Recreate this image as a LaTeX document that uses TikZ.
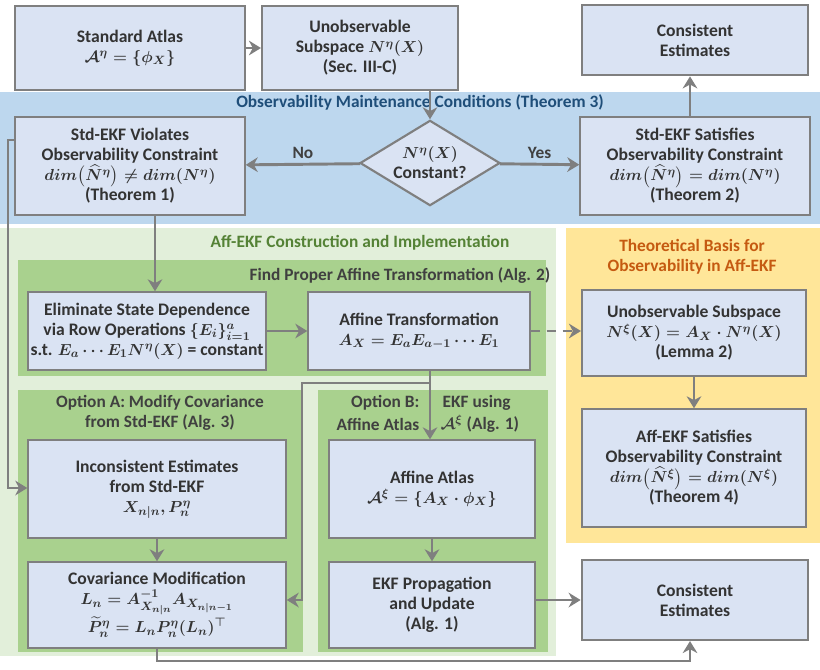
\documentclass[tikz,border=0pt]{standalone}
\usepackage{amsmath,amssymb,bm}
\usepackage{fontspec}
\setmainfont{Carlito}
\usetikzlibrary{arrows.meta,shapes.geometric}
\definecolor{bx}{HTML}{DAE3F3}
\definecolor{ln}{HTML}{7F7F7F}
\definecolor{blueband}{HTML}{BDD7EE}
\definecolor{lgreen}{HTML}{E2EFDA}
\definecolor{mgreen}{HTML}{A9D18E}
\definecolor{yel}{HTML}{FFE699}
\definecolor{dgreen}{HTML}{548235}
\definecolor{dblue}{HTML}{1F4E79}
\definecolor{brn}{HTML}{C55A11}
\tikzset{
 box/.style={draw=ln,fill=bx,line width=1.6pt,align=center,text=black!80,font=\fontsize{13.2}{15}\selectfont\bfseries\boldmath,inner sep=2pt},
 arr/.style={draw=ln,line width=2.2pt,-{Stealth[length=9pt,width=11pt]}},
 ttl/.style={font=\fontsize{13}{15}\selectfont\bfseries\boldmath,align=center}
}
\begin{document}
\begin{tikzpicture}[x=0.75pt,y=-0.75pt]
\useasboundingbox (0,0) rectangle (820,669);
% backgrounds
\fill[blueband] (0,92) rectangle (820,224);
\fill[lgreen] (0,228) rectangle (556,656);
\fill[mgreen] (18,260) rectangle (546,376);
\fill[mgreen] (18,390) rectangle (303,652);
\fill[mgreen] (318,390) rectangle (548,652);
\fill[yel] (566,228) rectangle (820,543);
\node[ttl,text=dblue] (t1) at (420,102) {Observability Maintenance Conditions (Theorem 3)};
\node[ttl,text=dgreen] (t2) at (360,243) {Aff-EKF Construction and Implementation};
\node[ttl,text=black!75] (t3) at (400,276) {Find Proper Affine Transformation (Alg. 2)};
\node[ttl,text=black!75] (t4) at (160,413) {Option A: Modify Covariance\\from Std-EKF (Alg. 3)};
\node[ttl,text=black!75,anchor=east] (t5) at (424,403) {Option B:};
\node[ttl,text=black!75,anchor=west] (t5b) at (438,403) {EKF using};
\node[ttl,text=black!75,anchor=east] (t6) at (424,424) {Affine Atlas};
\node[ttl,text=black!75,anchor=west] (t6b) at (436,424) {$\mathcal{A}^{\xi}$ (Alg. 1)};
\node[ttl,text=brn] (t7) at (692,257) {Theoretical Basis for\\Observability in Aff-EKF};
% boxes
\node[box,minimum width=172pt,minimum height=63pt] (sa) at (130,48) {Standard Atlas\\$\mathcal{A}^{\eta}=\{\phi_X\}$};
\node[box,minimum width=147pt,minimum height=63pt] (un) at (360,48) {Unobservable\\Subspace $N^{\eta}(X)$\\(Sec. III-C)};
\node[box,minimum width=170pt,minimum height=53pt] (ct) at (695,40) {Consistent\\Estimates};
\node[box,minimum width=172pt,minimum height=73pt] (sv) at (130,166) {Std-EKF Violates\\Observability Constraint\\$dim\big(\widehat{N}^{\eta}\big)\neq dim(N^{\eta})$\\(Theorem 1)};
\node[box,diamond,aspect=1.65,inner sep=0pt,minimum width=105pt,minimum height=64pt] (dm) at (430,163) {$N^{\eta}(X)$\\Constant?};
\node[box,minimum width=172pt,minimum height=73pt] (ss) at (695,166) {Std-EKF Satisfies\\Observability Constraint\\$dim\big(\widehat{N}^{\eta}\big)=dim(N^{\eta})$\\(Theorem 2)};
\node[box,minimum width=178pt,minimum height=58pt] (el) at (147,331) {Eliminate State Dependence\\via Row Operations $\{E_i\}_{i=1}^{a}$\\s.t. $E_a\cdots E_1N^{\eta}(X)$ = constant};
\node[box,minimum width=166pt,minimum height=58pt] (af) at (419,331) {Affine Transformation\\$A_X=E_aE_{a-1}\cdots E_1$};
\node[box,minimum width=168pt,minimum height=64pt] (ux) at (694,333) {Unobservable Subspace\\$N^{\xi}(X)=A_X\cdot N^{\eta}(X)$\\(Lemma 2)};
\node[box,minimum width=168pt,minimum height=88pt] (as) at (694,468) {Aff-EKF Satisfies\\Observability Constraint\\$dim\big(\widehat{N}^{\xi}\big)=dim(N^{\xi})$\\(Theorem 4)};
\node[box,minimum width=193pt,minimum height=73pt] (ic) at (157,489) {Inconsistent Estimates\\from Std-EKF\\$X_{n|n},P_n^{\eta}$};
\node[box,minimum width=154pt,minimum height=73pt] (aa) at (432,489) {Affine Atlas\\$\mathcal{A}^{\xi}=\{A_X\cdot\phi_X\}$};
\node[box,minimum width=193pt,minimum height=64pt] (cm) at (157,605) {Covariance Modification\\$L_n=A^{-1}_{X_{n|n}}A_{X_{n|n-1}}$\\$\widetilde{P}^{\eta}_n=L_nP^{\eta}_n(L_n)^{\top}$};
\node[box,minimum width=154pt,minimum height=64pt] (ep) at (432,605) {EKF Propagation\\and Update\\(Alg. 1)};
\node[box,minimum width=170pt,minimum height=60pt] (cb) at (695,600) {Consistent\\Estimates};
% arrows
\draw[arr] (sa) -- (un);
\draw[arr] (un.south -| dm.north) -- (dm);
\draw[arr] (dm) -- node[above,font=\fontsize{13}{15}\selectfont\bfseries,text=black!75] {No} (sv);
\draw[arr] (dm) -- node[above,font=\fontsize{13}{15}\selectfont\bfseries,text=black!75] {Yes} (ss);
\draw[arr] (ss.north -| 690,0) -- (ct.south -| 690,0);
\coordinate (v1) at (155,216);
\draw[arr] (v1) -- (v1 |- el.north);
\draw[arr] (el) -- (af);
\draw[arr,dash pattern=on 7pt off 5pt] (af) -- (ux.west |- af);
\draw[arr] (ux) -- (as);
\coordinate (b1) at (430,383);
\draw[arr] (af.south -| b1) -- (aa.north -| b1);
\draw[arr] (b1) -- (302,383) -- (302,600) -- (cm.east |- 0,600);
\coordinate (l1) at (8,140);
\draw[arr] (sv.west |- l1) -- (l1) -- (8,488) -- (ic.west |- 0,488);
\draw[arr] (ic) -- (cm);
\draw[arr] (aa) -- (ep);
\draw[arr] (ep.east |- cb) -- (cb);
\draw[arr] (cm.south) -- (157,661) -- (690,661) -- (cb.south -| 690,0);
\end{tikzpicture}
\end{document}
